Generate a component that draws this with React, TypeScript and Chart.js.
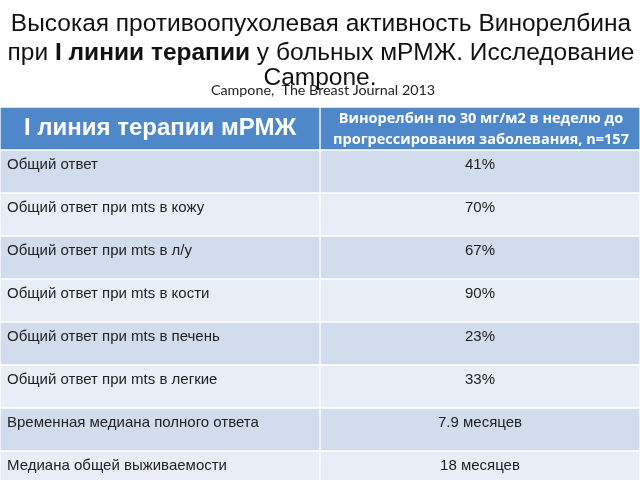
import React, { useEffect, useRef } from "react";
import { Chart, registerables } from "chart.js";

Chart.register(...registerables);

// ---- Data ----
const titleLine1 = "Высокая противоопухолевая активность Винорелбина";
const titleLine2Parts: [string, boolean][] = [
  ["при ", false],
  ["I линии терапии", true],
  [" у больных мРМЖ. Исследование", false],
];
const titleLine3 = "Campone.";
const sourceText = "Campone,  The Breast Journal 2013";

const headerLeft = "I линия терапии мРМЖ";
const headerRight = [
  "Винорелбин по 30 мг/м2 в неделю до",
  "прогрессирования заболевания, n=157",
];

const rowLabels = [
  "Общий ответ",
  "Общий ответ при mts в кожу",
  "Общий ответ при mts в л/у",
  "Общий ответ при mts в кости",
  "Общий ответ при mts в печень",
  "Общий ответ при mts в легкие",
  "Временная медиана полного ответа",
  "Медиана общей выживаемости",
];
const rowValues = ["41%", "70%", "67%", "90%", "23%", "33%", "7.9 месяцев", "18 месяцев"];

const columnLeftSpan: [number, number] = [0, 1];
const columnRightSpan: [number, number] = [1, 2];

const HEADER_COLOR = "#4f88ca";
const ROW_ODD = "#d1dcec";
const ROW_EVEN = "#e9eef6";

export default function App() {
  const ref = useRef<HTMLCanvasElement | null>(null);

  useEffect(() => {
    if (!ref.current) return;
    const categories = ["header", ...rowLabels];
    const colors = categories.map((_, i) => (i === 0 ? HEADER_COLOR : i % 2 === 1 ? ROW_ODD : ROW_EVEN));

    const textPlugin = {
      id: "tableText",
      afterDraw(chart: any) {
        const ctx: CanvasRenderingContext2D = chart.ctx;
        ctx.save();
        // Title
        ctx.fillStyle = "#111";
        ctx.textBaseline = "alphabetic";
        ctx.textAlign = "left";
        const tf = "24.5px 'Liberation Sans', Arial, sans-serif";
        const tfb = "bold 24.5px 'Liberation Sans', Arial, sans-serif";
        ctx.font = tf;
        const w1 = ctx.measureText(titleLine1).width;
        ctx.fillText(titleLine1, 321 - w1 / 2, 31);
        let total = 0;
        const widths = titleLine2Parts.map(([t, b]) => {
          ctx.font = b ? tfb : tf;
          const w = ctx.measureText(t).width;
          total += w;
          return w;
        });
        let x = 321 - total / 2;
        titleLine2Parts.forEach(([t, b], i) => {
          ctx.font = b ? tfb : tf;
          ctx.fillText(t, x, 60);
          x += widths[i];
        });
        ctx.font = tf;
        const w3 = ctx.measureText(titleLine3).width;
        ctx.fillText(titleLine3, 320 - w3 / 2, 85);

        ctx.font = "14.3px Lato, 'Open Sans', sans-serif";
        ctx.fillStyle = "#222";
        ctx.textAlign = "center";
        ctx.fillText(sourceText, 323, 95);

        // Cells
        const metaL = chart.getDatasetMeta(0);
        const metaR = chart.getDatasetMeta(1);
        ctx.textBaseline = "middle";
        metaL.data.forEach((el: any, i: number) => {
          const p = el.getProps(["x", "y", "base", "height"], true);
          const left = Math.min(p.x, p.base);
          const right = Math.max(p.x, p.base);
          const top = p.y - p.height / 2;
          const r = metaR.data[i].getProps(["x", "y", "base", "height"], true);
          const rl = Math.min(r.x, r.base);
          const rr = Math.max(r.x, r.base);
          if (i === 0) {
            ctx.fillStyle = "#ffffff";
            ctx.textAlign = "center";
            ctx.font = "bold 24px 'Liberation Sans', Arial, sans-serif";
            ctx.fillText(headerLeft, (left + right) / 2, p.y);
            ctx.font = "bold 14.5px 'Open Sans', Lato, sans-serif";
            ctx.fillText(headerRight[0], (rl + rr) / 2 + 1, p.y - 10);
            ctx.fillText(headerRight[1], (rl + rr) / 2 + 1, p.y + 11);
          } else {
            ctx.fillStyle = "#222222";
            ctx.font = "15px 'Liberation Sans', Arial, sans-serif";
            ctx.textAlign = "left";
            ctx.fillText(rowLabels[i - 1], left + 7, top + 15);
            ctx.textAlign = "center";
            ctx.fillText(rowValues[i - 1], (rl + rr) / 2, top + 15);
          }
        });
        ctx.restore();
      },
    };

    const chart = new Chart(ref.current, {
      type: "bar",
      data: {
        labels: categories,
        datasets: [
          {
            data: categories.map(() => columnLeftSpan),
            backgroundColor: colors,
            borderColor: "#ffffff",
            borderWidth: 1,
            borderSkipped: false,
            grouped: false,
            barPercentage: 1,
            categoryPercentage: 1,
          } as any,
          {
            data: categories.map(() => columnRightSpan),
            backgroundColor: colors,
            borderColor: "#ffffff",
            borderWidth: 1,
            borderSkipped: false,
            grouped: false,
            barPercentage: 1,
            categoryPercentage: 1,
          } as any,
        ],
      },
      options: {
        indexAxis: "y",
        responsive: false,
        animation: false,
        layout: { padding: { top: 107, left: 0, right: 0, bottom: 0 } },
        scales: {
          x: { type: "linear", min: 0, max: 2, display: false },
          y: { type: "category", display: false },
        },
        plugins: { legend: { display: false }, tooltip: { enabled: false }, title: { display: false } },
      },
      plugins: [textPlugin],
    });
    return () => chart.destroy();
  }, []);

  return (
    <div style={{ position: "fixed", left: 0, top: 0, width: 640, height: 480, overflow: "hidden", background: "#fff" }}>
      <canvas ref={ref} width={640} height={494} style={{ display: "block", width: 640, height: 494 }} />
    </div>
  );
}
